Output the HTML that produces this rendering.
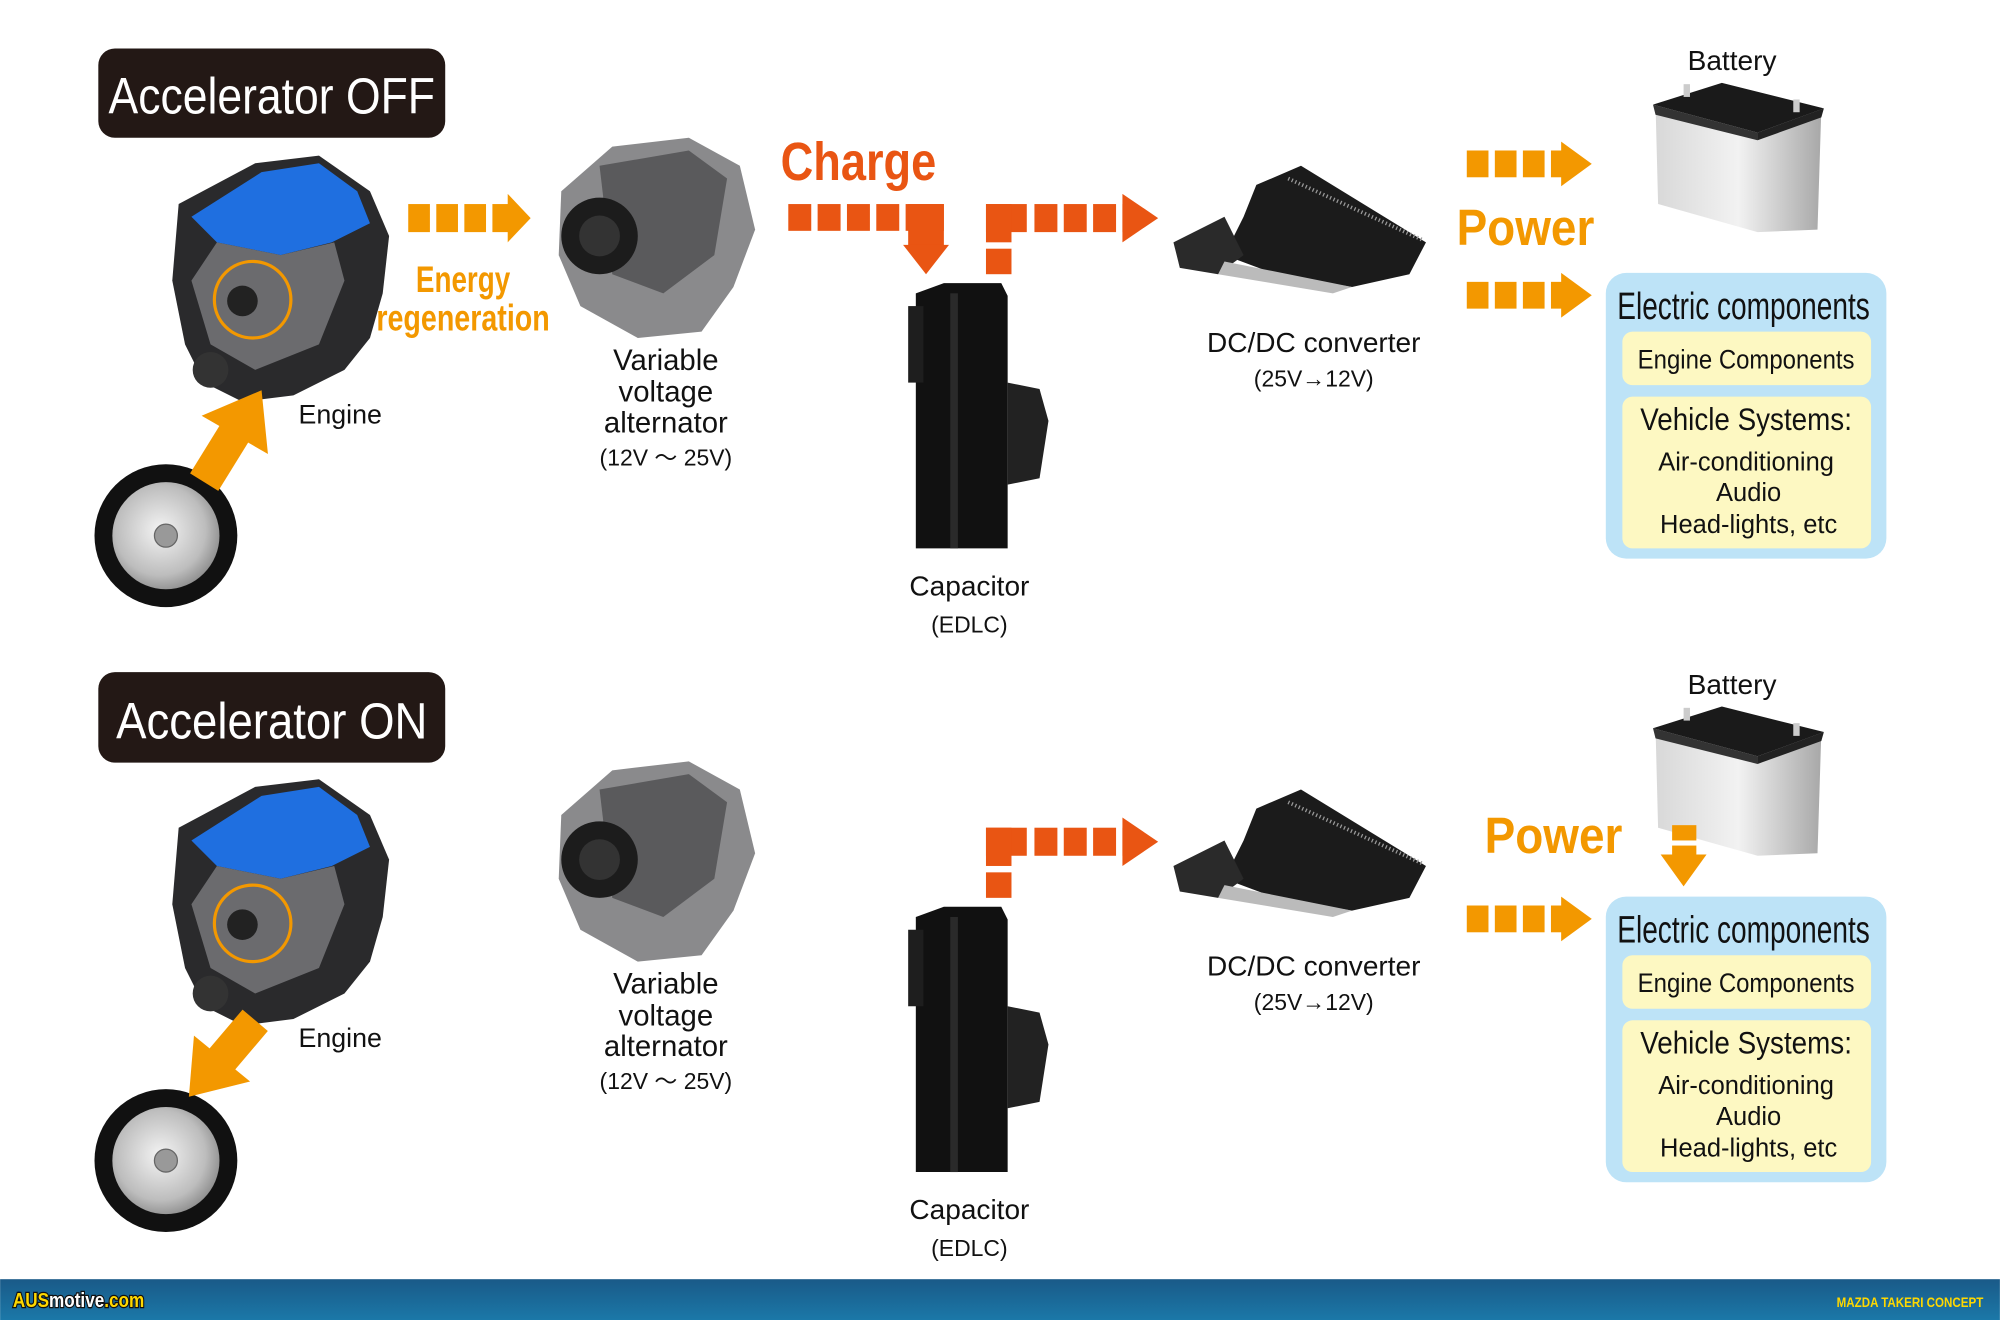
<!DOCTYPE html>
<html><head><meta charset="utf-8"><style>
html,body{margin:0;padding:0;background:#fff;}
svg{display:block}
text{font-family:"Liberation Sans Narrow","Liberation Sans",sans-serif;}
</style></head><body>
<svg width="2000" height="1320" viewBox="0 0 1568 1035" xmlns="http://www.w3.org/2000/svg">
<defs>
<linearGradient id="ft" x1="0" y1="0" x2="0" y2="1"><stop offset="0" stop-color="#1a5a88"/><stop offset="1" stop-color="#1b78a8"/></linearGradient>
<radialGradient id="rim" cx="0.45" cy="0.45" r="0.6"><stop offset="0" stop-color="#f4f4f4"/><stop offset="0.7" stop-color="#bdbdbd"/><stop offset="1" stop-color="#888"/></radialGradient>
<linearGradient id="bat" x1="0" y1="0" x2="1" y2="0"><stop offset="0" stop-color="#d8d8d8"/><stop offset="0.5" stop-color="#f2f2f2"/><stop offset="1" stop-color="#a8a8a8"/></linearGradient>
<g id="engine">
  <path d="M140 160 L200 128 L250 122 L290 150 L305 185 L300 230 L290 265 L270 290 L230 310 L190 315 L160 300 L145 270 L135 220 Z" fill="#2a2a2c"/>
  <path d="M150 170 L205 135 L250 128 L280 150 L290 175 L260 190 L220 200 L170 190 Z" fill="#1f6fe0"/>
  <path d="M170 190 L220 200 L262 190 L270 220 L250 270 L200 290 L165 270 L150 220 Z" fill="#6b6b6e"/>
  <circle cx="198" cy="235" r="30" fill="none" stroke="#f39800" stroke-width="2.5"/>
  <circle cx="190" cy="236" r="12" fill="#222"/>
  <circle cx="165" cy="290" r="14" fill="#333"/>
</g>
<g id="tire">
  <circle cx="130" cy="0" r="56" fill="#111"/>
  <circle cx="130" cy="0" r="42" fill="url(#rim)"/>
  <circle cx="130" cy="0" r="9" fill="#999" stroke="#666"/>
</g>
<g id="alt">
  <path d="M440 150 L480 115 L540 108 L580 130 L592 180 L575 225 L550 260 L500 265 L455 240 L438 200 Z" fill="#8a8a8c"/>
  <path d="M470 130 L540 118 L570 140 L560 200 L520 230 L480 215 Z" fill="#5a5a5c"/>
  <circle cx="470" cy="185" r="30" fill="#1c1c1c"/>
  <circle cx="470" cy="185" r="16" fill="#333"/>
</g>
<g id="cap">
  <path d="M718 230 L740 222 L785 222 L790 232 L790 430 L718 430 Z" fill="#111"/>
  <rect x="712" y="240" width="12" height="60" fill="#1e1e1e"/>
  <path d="M790 300 L815 305 L822 330 L815 375 L790 380 Z" fill="#222"/>
  <rect x="745" y="230" width="6" height="200" fill="#2a2a2a"/>
</g>
<g id="dcdc">
  <path d="M985 145 L1020 130 L1118 190 L1105 215 L1060 225 L1000 215 L960 200 L975 170 Z" fill="#1b1b1b"/>
  <path d="M920 190 L960 170 L975 200 L955 215 L925 210 Z" fill="#2a2a2a"/>
  <path d="M960 205 L1060 225 L1045 230 L955 215 Z" fill="#bbb"/>
  <path d="M1010 140 L1115 188" stroke="#999" stroke-width="3" stroke-dasharray="1 2"/>
</g>
<g id="battery">
  <path d="M1298 82 L1350 65 L1428 85 L1425 180 L1378 182 L1300 160 Z" fill="url(#bat)"/>
  <path d="M1296 82 L1350 65 L1430 85 L1378 104 Z" fill="#1a1a1a"/>
  <path d="M1296 82 L1378 104 L1378 110 L1298 90 Z" fill="#333"/>
  <path d="M1378 104 L1430 85 L1428 92 L1378 110 Z" fill="#222"/>
  <rect x="1320" y="66" width="5" height="10" fill="#ccc"/><rect x="1406" y="78" width="5" height="10" fill="#ccc"/>
</g>
<g id="elec">
  <rect x="1259" y="214" width="220" height="224" rx="16" fill="#bde3f7"/>
  <text x="1367" y="250" font-size="30" text-anchor="middle" textLength="198" lengthAdjust="spacingAndGlyphs" fill="#111">Electric components</text>
  <rect x="1272" y="260" width="195" height="42" rx="8" fill="#fdf8c2"/>
  <text x="1369" y="289" font-size="21" text-anchor="middle" textLength="170" lengthAdjust="spacingAndGlyphs" fill="#111">Engine Components</text>
  <rect x="1272" y="311" width="195" height="119" rx="8" fill="#fdf8c2"/>
  <text x="1369" y="337" font-size="25" text-anchor="middle" textLength="166" lengthAdjust="spacingAndGlyphs" fill="#111">Vehicle Systems:</text>
  <text x="1369" y="369" font-size="20" text-anchor="middle" fill="#111">Air-conditioning</text>
  <text x="1371" y="393" font-size="20" text-anchor="middle" fill="#111">Audio</text>
  <text x="1371" y="418" font-size="20" text-anchor="middle" fill="#111">Head-lights, etc</text>
</g>
<g id="powarr" fill="#f39800">
  <rect x="1150" y="0" width="17" height="21"/><rect x="1172" y="0" width="17" height="21"/><rect x="1194" y="0" width="17" height="21"/>
  <rect x="1216" y="0" width="9" height="21"/><polygon points="1224,-7 1248,10.5 1224,28"/>
</g>
<g id="redarr" fill="#e95513">
  <rect x="773" y="195" width="20" height="20"/>
  <rect x="773" y="160" width="32" height="22"/><rect x="773" y="160" width="20" height="30"/>
  <rect x="811" y="160" width="18" height="22"/><rect x="834" y="160" width="18" height="22"/><rect x="857" y="160" width="18" height="22"/>
  <rect x="880" y="160" width="6" height="22"/><polygon points="880,152 908,171 880,190"/>
</g>
<g id="labels">
  <text x="234" y="332" font-size="21" fill="#111">Engine</text>
  <text x="522" y="290" font-size="23" text-anchor="middle" fill="#111">Variable</text>
  <text x="522" y="315" font-size="23" text-anchor="middle" fill="#111">voltage</text>
  <text x="522" y="339" font-size="23" text-anchor="middle" fill="#111">alternator</text>
  <text x="522" y="365" font-size="18" text-anchor="middle" fill="#111">(12V ～ 25V)</text>
  <text x="760" y="467" font-size="22" text-anchor="middle" fill="#111">Capacitor</text>
  <text x="760" y="496" font-size="18" text-anchor="middle" fill="#111">(EDLC)</text>
  <text x="1030" y="276" font-size="22" text-anchor="middle" fill="#111">DC/DC converter</text>
  <text x="1030" y="303" font-size="18" text-anchor="middle" fill="#111">(25V→12V)</text>
  <text x="1358" y="55" font-size="22" text-anchor="middle" fill="#111">Battery</text>
</g>
</defs>

<!-- TOP -->
<rect x="77" y="38" width="272" height="70" rx="13" fill="#231815"/>
<text x="213" y="89" font-size="40" text-anchor="middle" fill="#fff" textLength="256" lengthAdjust="spacingAndGlyphs">Accelerator OFF</text>
<use href="#engine"/>
<use href="#tire" y="420"/>
<g fill="#f39800">
  <line x1="160" y1="378" x2="186" y2="336" stroke="#f39800" stroke-width="26"/>
  <polygon points="205,306 210,356 158,326"/>
  <rect x="320" y="160" width="17" height="22"/><rect x="342" y="160" width="17" height="22"/><rect x="364" y="160" width="17" height="22"/>
  <rect x="386" y="160" width="13" height="22"/><polygon points="398,152 416,171 398,190"/>
</g>
<text x="363" y="229" font-size="29" font-weight="bold" text-anchor="middle" fill="#f39800" textLength="74" lengthAdjust="spacingAndGlyphs">Energy</text>
<text x="363" y="259" font-size="29" font-weight="bold" text-anchor="middle" fill="#f39800" textLength="136" lengthAdjust="spacingAndGlyphs">regeneration</text>
<use href="#alt"/>
<text x="673" y="141" font-size="42" font-weight="bold" text-anchor="middle" fill="#e95513" textLength="122" lengthAdjust="spacingAndGlyphs">Charge</text>
<g fill="#e95513">
  <rect x="618" y="160" width="18" height="21"/><rect x="641" y="160" width="18" height="21"/><rect x="664" y="160" width="18" height="21"/><rect x="687" y="160" width="18" height="21"/>
  <rect x="710" y="160" width="30" height="21"/><rect x="712" y="160" width="28" height="33"/>
  <polygon points="708,192 744,192 726,215"/>
</g>
<use href="#cap"/>
<use href="#redarr"/>
<use href="#dcdc"/>
<use href="#powarr" y="118"/>
<use href="#powarr" y="221"/>
<text x="1196" y="192" font-size="40" font-weight="bold" text-anchor="middle" fill="#f39800" textLength="108" lengthAdjust="spacingAndGlyphs">Power</text>
<use href="#battery"/>
<use href="#elec"/>
<use href="#labels"/>

<!-- BOTTOM -->
<rect x="77" y="527" width="272" height="71" rx="13" fill="#231815"/>
<text x="213" y="579" font-size="40" text-anchor="middle" fill="#fff" textLength="244" lengthAdjust="spacingAndGlyphs">Accelerator ON</text>
<g transform="translate(0,489)"><use href="#engine"/><use href="#labels"/><use href="#alt"/><use href="#cap"/><use href="#redarr"/><use href="#dcdc"/><use href="#battery"/><use href="#elec"/><use href="#powarr" y="221"/></g>
<use href="#tire" y="910"/>
<g fill="#f39800">
  <line x1="200" y1="800" x2="172" y2="833" stroke="#f39800" stroke-width="26"/>
  <polygon points="148,860 196,848 152,812"/>
  <rect x="1311" y="647" width="19" height="12"/><rect x="1311" y="663" width="19" height="8"/>
  <polygon points="1302,670 1338,670 1320,695"/>
</g>
<text x="1218" y="669" font-size="40" font-weight="bold" text-anchor="middle" fill="#f39800" textLength="108" lengthAdjust="spacingAndGlyphs">Power</text>

<!-- FOOTER -->
<rect x="0" y="1003" width="1568" height="32" fill="url(#ft)"/>
<text x="10" y="1025" font-size="16" font-weight="bold" stroke="#111" stroke-width="2" paint-order="stroke" textLength="103" lengthAdjust="spacingAndGlyphs"><tspan fill="#ffd800">AUS</tspan><tspan fill="#fff">motive</tspan><tspan fill="#ffd800">.com</tspan></text>
<text x="1555" y="1025" font-size="11" font-weight="bold" fill="#ffd800" text-anchor="end" textLength="115" lengthAdjust="spacingAndGlyphs">MAZDA TAKERI CONCEPT</text>
</svg>
</body></html>
